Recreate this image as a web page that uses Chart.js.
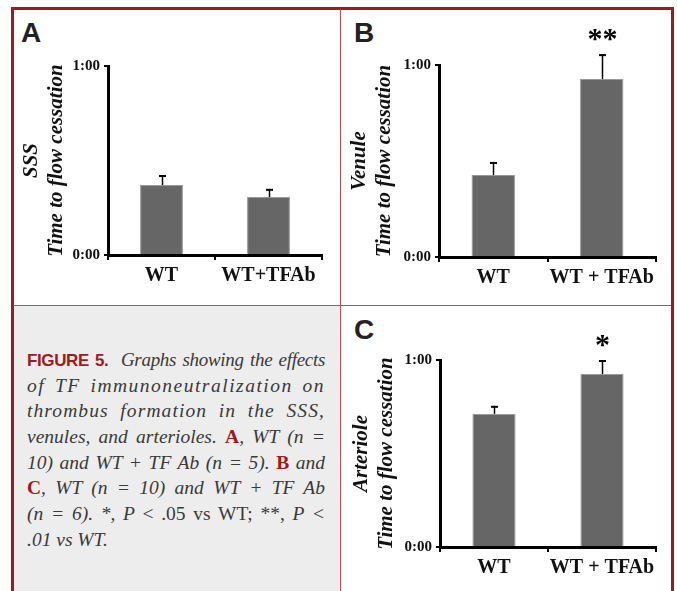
<!DOCTYPE html>
<html>
<head>
<meta charset="utf-8">
<script src="https://cdn.jsdelivr.net/npm/chart.js@4.4.1/dist/chart.umd.min.js"></script>
<style>
  body { margin: 0; width: 677px; height: 591px; background: #fff; position: relative; overflow: hidden; }
  .abs { position: absolute; }
  #frame { left: 11px; top: 7px; width: 657px; height: 600px; border: 3px solid #9e1b20; border-bottom: none; box-sizing: content-box; }
  .vline { left: 340px; top: 9px; width: 1px; height: 582px; background: #c44a50; }
  .hline { left: 13px; top: 305px; width: 658px; height: 1px; background: #c44a50; }
  #captionBox { left: 14px; top: 306px; width: 326px; height: 285px; background: #ededed; }
  .letter { font-family: "Liberation Sans", Arial, sans-serif; font-weight: bold; font-size: 28px; line-height: 28px; color: #222; }
  #caption { left: 27px; top: 347px; width: 298px; color: #3a3a3a; font-family: "Liberation Serif", serif; font-style: italic; font-size: 19.5px; }
  #caption div { height: 25.7px; line-height: 25.7px; text-align: justify; text-align-last: justify; white-space: nowrap; }
  #caption div.last { text-align-last: left; }
  .fig { font-family: "Liberation Sans", Arial, sans-serif; font-style: normal; font-weight: bold; color: #9e1b20; font-size: 17px; letter-spacing: -0.4px; }
  .red { font-style: normal; font-weight: bold; color: #9e1b20; }
  .up { font-style: normal; }
  canvas { position: absolute; }
</style>
</head>
<body>
<div id="frame" class="abs"></div>
<div id="captionBox" class="abs"></div>
<div class="vline abs"></div>
<div class="hline abs"></div>

<div class="letter abs" style="left:21px; top:19px;">A</div>
<div class="letter abs" style="left:354px; top:19px;">B</div>
<div class="letter abs" style="left:354px; top:316px;">C</div>

<canvas id="chartA" style="left:14px; top:10px;" width="326" height="295"></canvas>
<canvas id="chartB" style="left:342px; top:10px;" width="328" height="295"></canvas>
<canvas id="chartC" style="left:342px; top:306px;" width="328" height="285"></canvas>

<div id="caption" class="abs">
  <div style="font-size:19px; letter-spacing:-0.3px;"><span class="fig">FIGURE 5.</span>&nbsp; Graphs showing the effects</div>
  <div style="letter-spacing:1.5px;">of TF immunoneutralization on</div>
  <div style="letter-spacing:1.1px;">thrombus formation in the SSS,</div>
  <div>venules, and arterioles. <span class="red">A</span>, WT (n =</div>
  <div>10) and WT + TF Ab (n = 5). <span class="red">B</span> and</div>
  <div><span class="red">C</span>, WT (n = 10) and WT + TF Ab</div>
  <div>(n = 6). *, P <span class="up">&lt; .05 vs WT; **,</span> P &lt;</div>
  <div class="last">.01 vs WT.</div>
</div>

<script>
// valores en segundos (eje 0:00 - 1:00 min)
const labelsA = ['WT', 'WT+TFAb'];
const labelsBC = ['WT', 'WT + TFAb'];

const sssMean = [22.2, 18.4];
const sssErr = [3.2, 2.6];
const venuleMean = [25.6, 55.6];
const venuleErr = [4.1, 7.8];
const arterioleMean = [42.7, 55.5];
const arterioleErr = [2.6, 4.5];

const venuleStars = ['', '**'];
const arterioleStars = ['', '*'];

const yTickValues = [0, 60];
const yTickLabels = ['0:00', '1:00'];

// barras de error (solo hacia arriba) y asteriscos
const errorBars = {
    id: 'errorBars',
    afterDatasetsDraw(chart, args, opts) {
        const ctx = chart.ctx;
        const y = chart.scales.y;
        const ds = chart.data.datasets[0];
        chart.getDatasetMeta(0).data.forEach((bar, i) => {
            const top = y.getPixelForValue(ds.data[i] + opts.errors[i]);
            const x = Math.round(bar.x) + 0.5;
            ctx.save();
            ctx.strokeStyle = '#000';
            ctx.lineWidth = 1.5;
            ctx.beginPath();
            ctx.moveTo(x, bar.y);
            ctx.lineTo(x, top);
            ctx.stroke();
            ctx.lineWidth = 2;
            ctx.beginPath();
            ctx.moveTo(x - 3.5, top + 1);
            ctx.lineTo(x + 3.5, top + 1);
            ctx.stroke();
            if (opts.stars && opts.stars[i]) {
                ctx.fillStyle = '#000';
                ctx.font = 'bold 30px "Liberation Serif", serif';
                ctx.textAlign = 'center';
                ctx.textBaseline = 'alphabetic';
                ctx.fillText(opts.stars[i], x, top - 6);
            }
            ctx.restore();
        });
    }
};

function makeChart(id, labels, values, errors, stars, lay) {
    const ctx = document.getElementById(id).getContext('2d');
    return new Chart(ctx, {
        type: 'bar',
        data: {
            labels: labels,
            datasets: [{
                data: values,
                backgroundColor: '#666666',
                borderColor: '#9a9a9a',
                borderWidth: 1,
                barPercentage: 0.4,
                categoryPercentage: 1.0
            }]
        },
        options: {
            responsive: false,
            animation: false,
            events: [],
            layout: {
                padding: { top: lay.top, right: lay.right, left: lay.left, bottom: lay.bottom }
            },
            plugins: {
                legend: { display: false },
                tooltip: { enabled: false },
                errorBars: { errors: errors, stars: stars }
            },
            scales: {
                x: {
                    afterFit: function (scale) { scale.height = 40; },
                    border: { display: true, color: '#000', width: 3 },
                    grid: { display: true, drawOnChartArea: false, drawTicks: true, tickLength: 5, color: '#000', lineWidth: 2, offset: true },
                    ticks: {
                        color: '#111',
                        padding: 4,
                        maxRotation: 0,
                        font: { family: '"Liberation Serif", serif', weight: 'bold', size: 20 }
                    }
                },
                y: {
                    min: 0,
                    max: 60,
                    afterFit: function (scale) { scale.width = lay.yWidth; },
                    afterBuildTicks: function (scale) {
                        scale.ticks = yTickValues.map(v => ({ value: v }));
                    },
                    border: { display: true, color: '#000', width: 3 },
                    grid: { display: true, drawOnChartArea: false, drawTicks: true, tickLength: 4, color: '#000', lineWidth: 2 },
                    ticks: {
                        color: '#111',
                        padding: 4,
                        font: { family: '"Liberation Serif", serif', weight: 'bold', size: 15 },
                        callback: function (value, index) { return yTickLabels[index]; }
                    },
                    title: {
                        display: true,
                        text: lay.title,
                        color: '#111',
                        padding: 0,
                        font: { family: '"Liberation Serif", serif', weight: 'bold', style: 'italic', size: 21, lineHeight: 1.2 }
                    }
                }
            }
        },
        plugins: [errorBars]
    });
}

makeChart('chartA', labelsA, sssMean, sssErr, [],
    { top: 56, right: 18, left: 5, bottom: 10, yWidth: 89, title: ['SSS', 'Time to flow cessation'] });
makeChart('chartB', labelsBC, venuleMean, venuleErr, venuleStars,
    { top: 55, right: 14, left: 5, bottom: 8, yWidth: 92, title: ['Venule', 'Time to flow cessation'] });
makeChart('chartC', labelsBC, arterioleMean, arterioleErr, arterioleStars,
    { top: 54, right: 14, left: 7, bottom: 4, yWidth: 91, title: ['Arteriole', 'Time to flow cessation'] });
</script>
</body>
</html>
